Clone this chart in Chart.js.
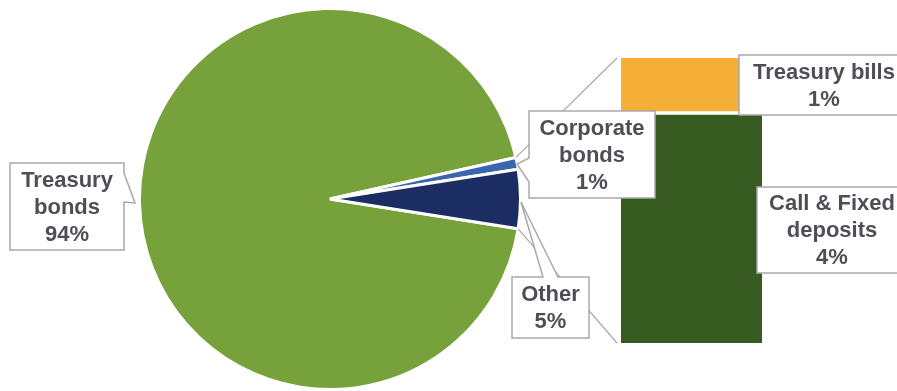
<!DOCTYPE html>
<html>
<head>
  <title>Portfolio Composition</title>
  <script src="https://cdn.jsdelivr.net/npm/chart.js"></script>
  <style>
    body { margin: 0; background: #fff; }
    #wrap { position: relative; width: 897px; height: 391px; }
    #wrap canvas { position: absolute; left: 0; top: 0; }
  </style>
</head>
<body>
  <div id="wrap">
    <canvas id="pieChart" width="897" height="391"></canvas>
    <canvas id="barChart" width="897" height="391"></canvas>
  </div>

  <script>
    // Portfolio split (percent)
    const pieLabels = ['Treasury bonds', 'Corporate bonds', 'Other'];
    const pieValues = [94, 1, 5];
    const pieColors = ['#77a23b', '#3b66ae', '#1c2d63'];

    // Breakdown of "Other"
    const barLabels = ['Call & Fixed deposits', 'Treasury bills'];
    const barValues = [4, 1];
    const barColors = ['#365a1f', '#f5ae36'];

    const textColor = '#4e4e56';
    const lineColor = '#a9a9ad';
    const font = 'bold 22px "Liberation Sans", Arial, sans-serif';

    // Pie: Other slice centred on the right-hand side
    const pieChart = new Chart(document.getElementById('pieChart'), {
      type: 'pie',
      data: {
        labels: pieLabels,
        datasets: [{
          data: pieValues,
          backgroundColor: pieColors,
          borderColor: '#ffffff',
          borderWidth: 3
        }]
      },
      options: {
        responsive: false,
        animation: false,
        rotation: 99,
        layout: { padding: { left: 137, right: 374, top: 7, bottom: 0 } },
        plugins: { legend: { display: false }, tooltip: { enabled: false } }
      }
    });

    // Callout boxes: lines of text, box, and pointer notch (side, from, to, tip)
    const callouts = [
      { lines: ['Treasury', 'bonds', pieValues[0] + '%'], box: [10, 163, 114, 87],
        notch: { side: 'right', a: 173, b: 202, tip: [135, 203] } },
      { lines: ['Corporate', 'bonds', pieValues[1] + '%'], box: [529, 111, 126, 87],
        notch: { side: 'left', a: 158, b: 182, tip: [517, 164] } },
      { lines: ['Other', pieValues[2] + '%'], box: [512, 277, 77, 61],
        notch: { side: 'top', a: 543, b: 558, tip: [521, 202] } },
      { lines: ['Treasury bills', barValues[1] + '%'], box: [739, 55, 170, 60] },
      { lines: ['Call & Fixed', 'deposits', barValues[0] + '%'], box: [757, 187, 150, 86] }
    ];

    function drawCallout(ctx, c) {
      const [x, y, w, h] = c.box;
      const n = c.notch;
      ctx.beginPath();
      ctx.moveTo(x, y);
      if (n && n.side === 'top') {
        ctx.lineTo(n.a, y); ctx.lineTo(n.tip[0], n.tip[1]); ctx.lineTo(n.b, y);
      }
      ctx.lineTo(x + w, y);
      if (n && n.side === 'right') {
        ctx.lineTo(x + w, n.a); ctx.lineTo(n.tip[0], n.tip[1]); ctx.lineTo(x + w, n.b);
      }
      ctx.lineTo(x + w, y + h);
      ctx.lineTo(x, y + h);
      if (n && n.side === 'left') {
        ctx.lineTo(x, n.b); ctx.lineTo(n.tip[0], n.tip[1]); ctx.lineTo(x, n.a);
      }
      ctx.closePath();
      ctx.fillStyle = '#ffffff';
      ctx.fill();
      ctx.strokeStyle = lineColor;
      ctx.lineWidth = 1.5;
      ctx.stroke();

      ctx.fillStyle = textColor;
      ctx.font = font;
      ctx.textAlign = 'center';
      ctx.textBaseline = 'middle';
      const lh = 27;
      const top = y + h / 2 - (c.lines.length - 1) * lh / 2;
      c.lines.forEach((t, i) => ctx.fillText(t, x + w / 2, top + i * lh + 1));
    }

    const overlay = {
      id: 'overlay',
      beforeDatasetsDraw(chart) {
        // connector lines from the Other slices to the bar
        const ctx = chart.ctx;
        const arcs = pieChart.getDatasetMeta(0).data;
        const top = chart.getDatasetMeta(1).data[0];
        const bottom = chart.getDatasetMeta(0).data[0];
        const left = top.x - top.width / 2;
        const a0 = arcs[1].startAngle, a1 = arcs[2].endAngle;
        const r = arcs[1].outerRadius;
        ctx.save();
        ctx.strokeStyle = lineColor;
        ctx.lineWidth = 1.2;
        ctx.beginPath();
        ctx.moveTo(arcs[1].x + r * Math.cos(a0), arcs[1].y + r * Math.sin(a0));
        ctx.lineTo(left - 4, top.y);
        ctx.moveTo(arcs[2].x + r * Math.cos(a1), arcs[2].y + r * Math.sin(a1));
        ctx.lineTo(left - 4, bottom.base);
        ctx.stroke();
        ctx.restore();
      },
      afterDraw(chart) {
        const ctx = chart.ctx;
        ctx.save();
        callouts.forEach(c => drawCallout(ctx, c));
        ctx.restore();
      }
    };

    // Stacked bar for the breakdown of Other
    new Chart(document.getElementById('barChart'), {
      type: 'bar',
      data: {
        labels: [''],
        datasets: barLabels.map((label, i) => ({
          label: label,
          data: [barValues[i]],
          backgroundColor: barColors[i],
          borderColor: '#ffffff',
          borderWidth: i === 1 ? { top: 0, left: 0, right: 0, bottom: 4 } : 0,
          borderSkipped: false,
          barPercentage: 1,
          categoryPercentage: 1
        }))
      },
      options: {
        responsive: false,
        animation: false,
        layout: { padding: { left: 621, right: 135, top: 58, bottom: 48 } },
        scales: {
          x: { stacked: true, display: false },
          y: { stacked: true, display: false, min: 0, max: 5 }
        },
        plugins: { legend: { display: false }, tooltip: { enabled: false } }
      },
      plugins: [overlay]
    });
  </script>
</body>
</html>
